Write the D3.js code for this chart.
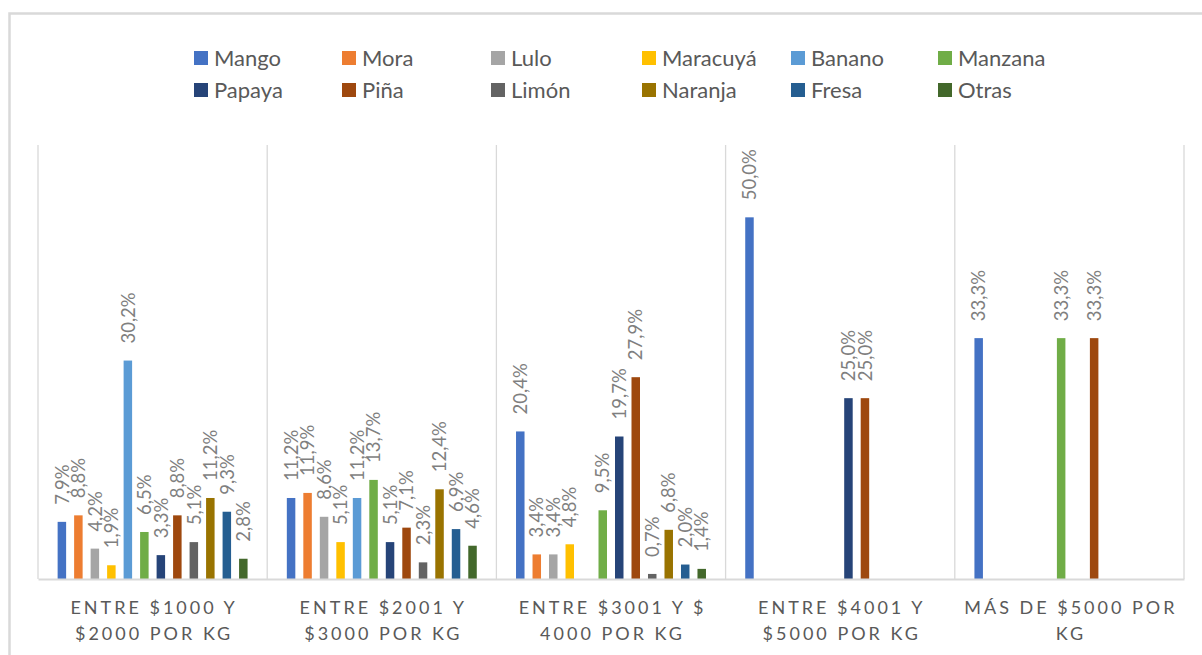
<!DOCTYPE html>
<html>
<head>
<meta charset="utf-8">
<script src="https://cdn.jsdelivr.net/npm/d3@7"></script>
<style>
  html, body { margin: 0; padding: 0; background: #fff; }
  svg { display: block; }
</style>
</head>
<body>
<svg id="chart" width="1202" height="655"></svg>
<script>
// ---- data ----
const categories = [
  "ENTRE $1000 Y $2000 POR KG",
  "ENTRE $2001 Y $3000 POR KG",
  "ENTRE $3001 Y $4000 POR KG",
  "ENTRE $4001 Y $5000 POR KG",
  "MÁS DE $5000 POR KG"
];
const categoryLines = [
  ["ENTRE $1000 Y", "$2000 POR KG"],
  ["ENTRE $2001 Y", "$3000 POR KG"],
  ["ENTRE $3001 Y $", "4000 POR KG"],
  ["ENTRE $4001 Y", "$5000 POR KG"],
  ["MÁS DE $5000 POR", "KG"]
];
const series = ["Mango","Mora","Lulo","Maracuyá","Banano","Manzana","Papaya","Piña","Limón","Naranja","Fresa","Otras"];
const colors = ["#4472C4","#ED7D31","#A5A5A5","#FFC000","#5B9BD5","#70AD47","#264478","#9E480E","#636363","#997300","#255E91","#43682B"];
// values per series, one per category (null = no bar)
const Mango    = [7.9, 11.2, 20.4, 50.0, 33.3];
const Mora     = [8.8, 11.9, 3.4, null, null];
const Lulo     = [4.2, 8.6, 3.4, null, null];
const Maracuya = [1.9, 5.1, 4.8, null, null];
const Banano   = [30.2, 11.2, null, null, null];
const Manzana  = [6.5, 13.7, 9.5, null, 33.3];
const Papaya   = [3.3, 5.1, 19.7, 25.0, null];
const Pina     = [8.8, 7.1, 27.9, 25.0, 33.3];
const Limon    = [5.1, 2.3, 0.7, null, null];
const Naranja  = [11.2, 12.4, 6.8, null, null];
const Fresa    = [9.3, 6.9, 2.0, null, null];
const Otras    = [2.8, 4.6, 1.4, null, null];
const seriesValues = [Mango, Mora, Lulo, Maracuya, Banano, Manzana, Papaya, Pina, Limon, Naranja, Fresa, Otras];
const yTicks = [0, 10, 20, 30, 40, 50, 60];

// ---- layout ----
const svg = d3.select("#chart");
const plot = { left: 38, right: 1184, top: 145, bottom: 579 };
const grid = "#d9d9d9";
const font = "Lato, 'Liberation Sans', sans-serif";

// outer frame
svg.append("rect")
  .attr("x", 9.5).attr("y", 13.5).attr("width", 1400).attr("height", 800)
  .attr("fill", "#fff").attr("stroke", grid).attr("stroke-width", 2.5);

const x0 = d3.scaleBand().domain(categories).range([plot.left, plot.right]).paddingInner(0).paddingOuter(0);
const x1 = d3.scaleBand().domain(series).range([0, x0.bandwidth()]).paddingInner(0.485).paddingOuter(1.19);
const y = d3.scaleLinear().domain([yTicks[0], yTicks[yTicks.length - 1]]).range([plot.bottom, plot.top]);

// category divider lines
const bounds = categories.map(c => x0(c)).concat([x0(categories[categories.length - 1]) + x0.bandwidth()]);
svg.append("g").selectAll("line").data(bounds).join("line")
  .attr("x1", d => d).attr("x2", d => d)
  .attr("y1", plot.top).attr("y2", plot.bottom)
  .attr("stroke", grid).attr("stroke-width", 1.3);

// bars
const flat = [];
series.forEach((s, si) => {
  categories.forEach((c, ci) => {
    const v = seriesValues[si][ci];
    if (v !== null && v !== undefined) flat.push({ s, si, c, v });
  });
});

svg.append("g").selectAll("rect").data(flat).join("rect")
  .attr("x", d => x0(d.c) + x1(d.s))
  .attr("y", d => y(d.v))
  .attr("width", x1.bandwidth())
  .attr("height", d => y(0) - y(d.v))
  .attr("fill", d => colors[d.si]);

// data labels
const fmt = v => d3.format(".1f")(v).replace(".", ",") + "%";
svg.append("g").selectAll("text").data(flat).join("text")
  .attr("transform", d => `translate(${x0(d.c) + x1(d.s) + x1.bandwidth() / 2},${y(d.v) - 17}) rotate(-90)`)
  .attr("dy", "0.36em")
  .attr("text-anchor", "start")
  .attr("font-family", font)
  .attr("font-size", 18.5)
  .attr("fill", "#7f7f7f")
  .text(d => fmt(d.v));

// baseline axis
const xAxis = d3.axisBottom(x0).tickSize(0).tickFormat("");
const gx = svg.append("g").attr("transform", `translate(0,${plot.bottom})`).call(xAxis);
gx.select(".domain").attr("stroke", grid).attr("stroke-width", 2);

// category labels
gx.selectAll(".tick").each(function(d) {
  const i = categories.indexOf(d);
  const t = d3.select(this).append("text")
    .attr("text-anchor", "middle")
    .attr("font-family", font)
    .attr("font-size", 18)
    .attr("letter-spacing", 3)
    .attr("fill", "#595959");
  categoryLines[i].forEach((ln, k) => {
    t.append("tspan").attr("x", 1.5).attr("y", 35 + k * 26).text(ln);
  });
});

// legend
const legendX = [194, 342, 491, 642, 791, 938];
const legendY = [58, 90];
const leg = svg.append("g");
series.forEach((s, i) => {
  const col = i % 6, row = Math.floor(i / 6);
  const g = leg.append("g").attr("transform", `translate(${legendX[col]},${legendY[row]})`);
  g.append("rect").attr("x", 0).attr("y", -7).attr("width", 14).attr("height", 14).attr("fill", colors[i]);
  g.append("text").attr("x", 20).attr("y", 0).attr("dy", "0.36em")
    .attr("font-family", font)
    .attr("font-size", 22)
    .attr("fill", "#595959")
    .text(s);
});
</script>
</body>
</html>
